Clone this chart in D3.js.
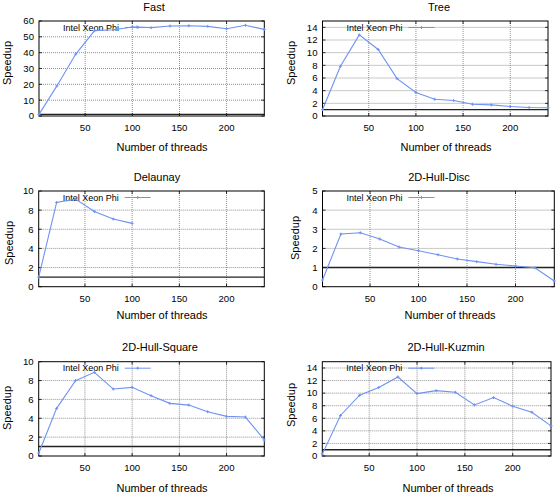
<!DOCTYPE html>
<html><head><meta charset="utf-8">
<script src="https://cdn.jsdelivr.net/npm/d3@7"></script>
<style>body{margin:0;background:#fff}svg{display:block}</style>
</head><body>
<svg id="c" width="557" height="495"></svg>
<script>
// ---- data ----
const titles = ["Fast", "Tree", "Delaunay", "2D-Hull-Disc", "2D-Hull-Square", "2D-Hull-Kuzmin"];
const seriesName = "Intel Xeon Phi";
const xLabel = "Number of threads";
const yLabel = "Speedup";

const threadsFast = [1, 20, 40, 60, 80, 100, 105, 120, 140, 160, 180, 200, 220, 240];
const speedupFast = [1.0, 19.0, 39.1, 53.9, 54.5, 56.2, 56.2, 55.8, 56.8, 57.0, 56.6, 55.1, 57.3, 54.7];

const threadsTree = [1, 20, 40, 60, 80, 100, 120, 140, 160, 180, 200, 220, 240];
const speedupTree = [1.0, 7.85, 12.8, 10.5, 5.9, 3.7, 2.65, 2.45, 1.85, 1.75, 1.5, 1.35, 1.3];

const threadsDelaunay = [1, 20, 40, 60, 80, 100];
const speedupDelaunay = [1.0, 8.8, 9.15, 7.85, 7.07, 6.62];

const threadsDisc = [1, 20, 40, 60, 80, 100, 120, 140, 160, 180, 200, 220, 240];
const speedupDisc = [0.35, 2.75, 2.82, 2.49, 2.07, 1.88, 1.67, 1.45, 1.31, 1.17, 1.08, 0.99, 0.3];

const threadsSquare = [1, 20, 40, 60, 80, 100, 120, 140, 160, 180, 200, 220, 240];
const speedupSquare = [0.3, 5.05, 7.99, 8.87, 7.1, 7.28, 6.4, 5.58, 5.4, 4.7, 4.2, 4.13, 1.7];

const threadsKuzmin = [1, 20, 40, 60, 80, 100, 120, 140, 160, 180, 200, 220, 240];
const speedupKuzmin = [0.3, 6.45, 9.67, 10.9, 12.57, 9.93, 10.4, 10.14, 8.13, 9.3, 7.92, 6.97, 4.8];

const xDomain = [1, 240];
const xTicks = [50, 100, 150, 200];
const yTicksFast = [0, 10, 20, 30, 40, 50, 60];
const yTicksTree = [0, 2, 4, 6, 8, 10, 12, 14];
const yTicksDelaunay = [0, 2, 4, 6, 8, 10];
const yTicksDisc = [0, 1, 2, 3, 4, 5];
const yTicksSquare = [0, 2, 4, 6, 8, 10];
const yTicksKuzmin = [0, 2, 4, 6, 8, 10, 12, 14];
const yMaxes = [60, 15, 10, 5, 10, 15];
const baselineSpeedup = 1;

// ---- layout (positions only) ----
const layout = [
  {l: 39,    r: 264.3, t: 21,    b: 116,   tx: 154, ty: 7,   lx: 162, ly: 147, sx: 7.5,   sy: 63},
  {l: 322.5, r: 548,   t: 21,    b: 116,   tx: 439, ty: 7,   lx: 446, ly: 147, sx: 291.5, sy: 63},
  {l: 38.7,  r: 264.3, t: 191,   b: 286.7, tx: 157, ty: 177, lx: 162, ly: 315, sx: 9,     sy: 243},
  {l: 322.5, r: 554.3, t: 191,   b: 286.7, tx: 439, ty: 177, lx: 450, ly: 315, sx: 295.5, sy: 238},
  {l: 38.7,  r: 264.3, t: 361.7, b: 456,   tx: 160, ty: 347, lx: 162, ly: 488, sx: 7.5,   sy: 408},
  {l: 322.3, r: 551,   t: 361.7, b: 456,   tx: 446, ty: 347, lx: 448, ly: 488, sx: 291.5, sy: 405}
];

const panels = [
  {x: threadsFast, y: speedupFast, yt: yTicksFast},
  {x: threadsTree, y: speedupTree, yt: yTicksTree},
  {x: threadsDelaunay, y: speedupDelaunay, yt: yTicksDelaunay},
  {x: threadsDisc, y: speedupDisc, yt: yTicksDisc},
  {x: threadsSquare, y: speedupSquare, yt: yTicksSquare},
  {x: threadsKuzmin, y: speedupKuzmin, yt: yTicksKuzmin}
];

const FONT = "'Liberation Sans', Arial, Helvetica, sans-serif";
const LINE = "#6f93f2";
const svg = d3.select("#c");

panels.forEach((p, i) => {
  const L = layout[i];
  const x = d3.scaleLinear().domain(xDomain).range([L.l, L.r]);
  const y = d3.scaleLinear().domain([0, yMaxes[i]]).range([L.b, L.t]);
  const g = svg.append("g");

  // grid
  g.append("g").selectAll("line").data(xTicks).join("line")
    .attr("x1", d => x(d)).attr("x2", d => x(d)).attr("y1", L.t).attr("y2", L.b)
    .attr("stroke", "#777").attr("stroke-width", 0.8).attr("stroke-dasharray", "1,1");
  g.append("g").selectAll("line").data(p.yt.filter(d => d > 0 && d < yMaxes[i])).join("line")
    .attr("y1", d => y(d)).attr("y2", d => y(d)).attr("x1", L.l).attr("x2", L.r)
    .attr("stroke", "#777").attr("stroke-width", 0.8).attr("stroke-dasharray", "1,1");

  // inner ticks
  const tk = 3;
  g.append("g").selectAll("path").data(xTicks).join("path")
    .attr("d", d => `M${x(d)},${L.b}v${-tk}M${x(d)},${L.t}v${tk}`)
    .attr("stroke", "#000").attr("stroke-width", 0.8);
  g.append("g").selectAll("path").data(p.yt).join("path")
    .attr("d", d => `M${L.l},${y(d)}h${tk}M${L.r},${y(d)}h${-tk}`)
    .attr("stroke", "#000").attr("stroke-width", 0.8);

  // baseline speedup = 1
  g.append("line").attr("x1", L.l).attr("x2", L.r)
    .attr("y1", y(baselineSpeedup)).attr("y2", y(baselineSpeedup))
    .attr("stroke", "#222").attr("stroke-width", 1.4);

  // border
  g.append("rect").attr("x", L.l).attr("y", L.t).attr("width", L.r - L.l).attr("height", L.b - L.t)
    .attr("fill", "none").attr("stroke", "#000").attr("stroke-width", 1);

  // tick labels
  g.append("g").selectAll("text").data(xTicks).join("text")
    .attr("x", d => x(d)).attr("y", L.b + 12).attr("dy", "0.35em")
    .attr("text-anchor", "middle").attr("font-family", FONT).attr("font-size", 9.6)
    .text(d => d);
  g.append("g").selectAll("text").data(p.yt).join("text")
    .attr("x", L.l - 5).attr("y", d => y(d)).attr("dy", "0.35em")
    .attr("text-anchor", "end").attr("font-family", FONT).attr("font-size", 9.6)
    .text(d => d);

  // legend
  const ly = L.t + 6.5;
  g.append("text").attr("x", L.l + 80).attr("y", ly).attr("dy", "0.35em")
    .attr("text-anchor", "end").attr("font-family", FONT).attr("font-size", 9)
    .text(seriesName);
  g.append("line").attr("x1", L.l + 86).attr("x2", L.l + 112).attr("y1", ly).attr("y2", ly)
    .attr("stroke", LINE).attr("stroke-width", 1);
  g.append("path").attr("d", `M${L.l + 97.5},${ly}h3M${L.l + 99},${ly - 1.5}v3`)
    .attr("stroke", LINE).attr("stroke-width", 1);

  // data line
  const pts = p.x.map((v, k) => [v, p.y[k]]);
  g.append("path").datum(pts)
    .attr("d", d3.line().x(d => x(d[0])).y(d => y(d[1])))
    .attr("fill", "none").attr("stroke", LINE).attr("stroke-width", 1.1);
  g.append("g").selectAll("path").data(pts).join("path")
    .attr("d", d => `M${x(d[0]) - 1.5},${y(d[1])}h3M${x(d[0])},${y(d[1]) - 1.5}v3`)
    .attr("stroke", LINE).attr("stroke-width", 1);

  // titles and axis labels
  g.append("text").attr("x", L.tx).attr("y", L.ty).attr("dy", "0.35em")
    .attr("text-anchor", "middle").attr("font-family", FONT).attr("font-size", 11)
    .text(titles[i]);
  g.append("text").attr("x", L.lx).attr("y", L.ly).attr("dy", "0.35em")
    .attr("text-anchor", "middle").attr("font-family", FONT).attr("font-size", 11)
    .text(xLabel);
  g.append("text").attr("transform", `translate(${L.sx},${L.sy}) rotate(-90)`).attr("dy", "0.35em")
    .attr("text-anchor", "middle").attr("font-family", FONT).attr("font-size", 11)
    .text(yLabel);
});
</script>
</body></html>
